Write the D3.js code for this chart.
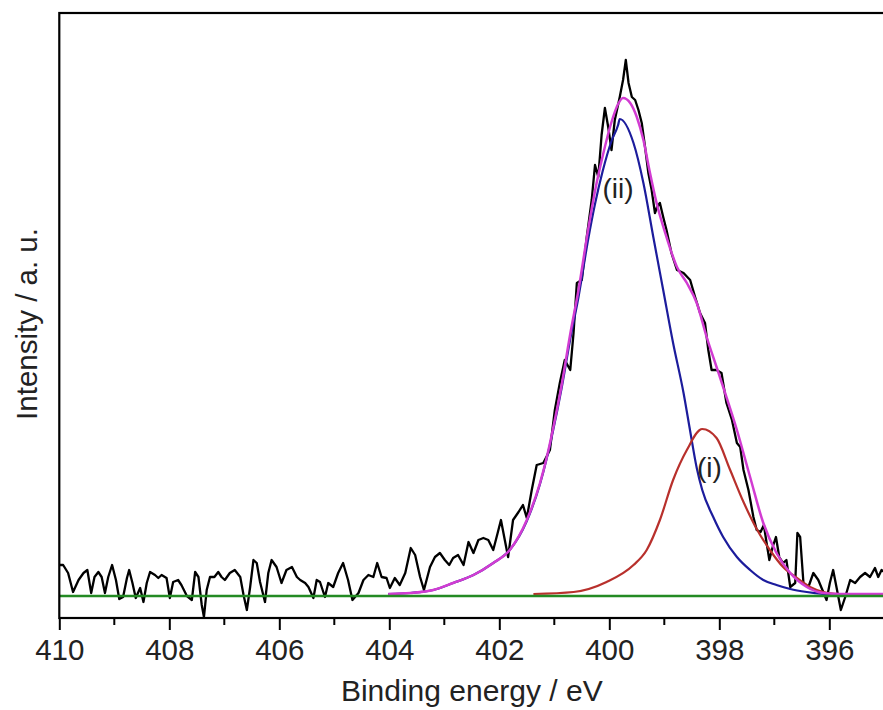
<!DOCTYPE html>
<html>
<head>
<meta charset="utf-8">
<script src="https://cdn.jsdelivr.net/npm/d3@7"></script>
<style>
  body { margin: 0; background: #fff; }
  text { font-family: "Liberation Sans", Arial, sans-serif; fill: #222; }
</style>
</head>
<body>
<div class="chart"></div>
<script>
// measured spectrum (binding energy in eV, intensity in a.u.)
const energy = [409.99,409.93,409.84,409.75,409.65,409.56,409.49,409.42,409.36,409.29,409.23,409.17,409.11,409.04,408.97,408.91,408.84,408.77,408.73,408.67,408.61,408.53,408.47,408.41,408.35,408.26,408.20,408.14,408.05,407.99,407.93,407.84,407.78,407.68,407.59,407.53,407.47,407.41,407.37,407.32,407.26,407.18,407.11,407.05,406.99,406.90,406.81,406.71,406.65,406.59,406.53,406.47,406.41,406.35,406.26,406.20,406.14,406.05,405.96,405.87,405.77,405.68,
  405.62,405.53,405.47,405.38,405.32,405.26,405.17,405.11,405.02,404.93,404.84,404.75,404.67,404.56,404.47,404.38,404.29,404.22,404.14,404.05,403.99,403.90,403.81,403.71,403.61,403.53,403.44,403.37,403.26,403.17,403.08,402.99,402.91,402.84,402.75,402.65,402.56,402.47,402.38,402.29,402.20,402.11,402.03,401.97,401.90,401.84,401.75,401.65,401.57,401.50,401.41,401.32,
  401.20,401.08,400.99,400.90,400.81,400.71,400.65,400.59,400.50,400.41,400.32,400.26,400.20,400.14,400.08,400.02,399.96,399.90,399.81,399.75,399.70,399.65,399.59,399.53,399.47,399.41,399.35,399.29,399.23,399.17,399.13,399.08,399.02,398.96,398.87,398.77,398.65,398.53,398.44,398.35,398.26,398.20,398.14,398.05,
  397.96,397.87,397.77,397.68,397.62,397.56,397.47,397.38,397.32,397.25,397.19,397.14,397.09,397.03,396.97,396.91,396.84,396.78,396.71,396.62,396.58,396.53,396.47,396.38,396.29,396.20,396.14,396.05,395.99,395.93,395.87,395.79,395.71,395.62,395.53,395.44,395.35,395.26,395.17,395.11,395.05,395.00];
const intensity = [31,31,23,4,16,23,26,3,19,24,19,3,19,31,16,-3,-1,18,26,13,-2,8,-6,13,24,21,18,21,18,-2,14,16,11,0,-4,24,19,-9,-21,6,19,19,24,19,16,23,26,19,1,-14,9,36,33,14,-6,23,36,29,13,26,29,19,
  16,13,9,-2,16,14,-1,13,9,23,33,16,-4,3,16,21,19,33,19,18,8,18,11,23,48,41,19,6,29,39,43,36,31,38,41,31,54,43,56,58,56,46,63,76,56,39,76,84,91,78,106,131,
  133,146,186,213,236,226,263,313,316,359,396,431,419,461,488,469,446,476,499,516,536,513,499,496,486,473,449,423,406,383,389,393,379,366,343,326,323,316,299,283,273,246,226,226,
  223,193,176,153,149,126,106,79,66,64,71,53,36,49,59,39,33,36,9,13,63,59,13,9,23,16,8,-4,13,26,9,-14,-1,16,13,19,23,19,28,19,26,24];

// fitted component (ii)
const peakIIEnergy = [404.02,403.62,403.20,402.84,402.47,402.11,401.81,401.50,401.26,401.14,401.02,400.87,400.71,400.56,400.38,400.26,400.12,399.96,399.84,399.81,399.56,399.38,399.20,399.02,398.84,398.65,398.53,398.41,398.31,398.11,397.93,397.68,397.44,397.20,396.96,396.71,396.41,396.11,395.81,395.00];
const peakII = [2,3,6,13,21,33,46,75,112,137,166,207,257,299,358,392,425,455,471,477,453,413,359,306,253,203,165,128,106,79,59,39,26,16,11,7,4,2,1,1];

// fitted component (i)
const peakIEnergy = [401.38,400.65,400.05,399.56,399.32,399.08,398.84,398.59,398.31,398.05,397.81,397.56,397.32,397.08,396.84,396.59,396.35,396.11,395.81,395.00];
const peakI = [2,4,14,31,46,76,116,146,167,158,127,94,67,46,29,18,9,4,2,1];

// fit envelope
const envelopeEnergy = [404.02,403.62,403.20,402.84,402.47,402.11,401.81,401.50,401.26,401.14,401.02,400.87,400.71,400.56,400.38,400.26,400.12,399.96,399.84,399.75,399.62,399.50,399.38,399.26,399.14,398.96,398.77,398.59,398.41,398.23,398.05,397.93,397.68,397.44,397.20,396.96,396.71,396.41,396.11,395.81,395.00];
const envelope = [2,3,6,13,21,33,46,76,113,138,168,210,262,306,368,405,440,474,492,498,493,479,456,423,393,359,329,313,293,259,229,209,166,119,73,43,23,9,3,2,2];

const baselineEnergy = [410, 395];
const baseline = [0, 0];

const tickValues = [410, 408, 406, 404, 402, 400, 398, 396];
const tickLabels = ["410", "408", "406", "404", "402", "400", "398", "396"];
const minorTicks = [409, 407, 405, 403, 401, 399, 397, 395];

let svgWidth = 883;
let svgHeight = 710;

let plot = { left: 59.3, right: 884.3, top: 13, bottom: 618 };

let svg = d3.select(".chart")
  .append("svg")
  .attr("width", svgWidth)
  .attr("height", svgHeight);

let x = d3.scaleLinear()
  .domain([410, 395])
  .range([plot.left, plot.right]);

let y = d3.scaleLinear()
  .domain([-22, 583])
  .range([plot.bottom, plot.top]);

svg.append("clipPath").attr("id", "plotclip")
  .append("rect")
  .attr("x", plot.left)
  .attr("y", plot.top)
  .attr("width", plot.right - plot.left)
  .attr("height", plot.bottom - plot.top);

let lines = svg.append("g").attr("clip-path", "url(#plotclip)");

function drawLine(xs, ys, color, width, curve) {
  let line = d3.line()
    .x(d => x(d[0]))
    .y(d => y(d[1]))
    .curve(curve);
  lines.append("path")
    .datum(d3.zip(xs, ys))
    .attr("d", line)
    .attr("fill", "none")
    .attr("stroke", color)
    .attr("stroke-width", width)
    .attr("stroke-linejoin", "round");
}

drawLine(energy, intensity, "#000", 2.3, d3.curveLinear);
drawLine(peakIIEnergy, peakII, "#1c1c9c", 2.2, d3.curveMonotoneX);
drawLine(peakIEnergy, peakI, "#b8302c", 2.2, d3.curveMonotoneX);
drawLine(envelopeEnergy, envelope, "#d23cd2", 2.5, d3.curveMonotoneX);
drawLine(baselineEnergy, baseline, "#238a23", 2.5, d3.curveLinear);

// frame
svg.append("rect")
  .attr("x", plot.left)
  .attr("y", plot.top)
  .attr("width", plot.right - plot.left)
  .attr("height", plot.bottom - plot.top)
  .attr("fill", "none")
  .attr("stroke", "#000")
  .attr("stroke-width", 2.2);

// x axis
let xAxis = d3.axisBottom(x)
  .tickValues(tickValues)
  .tickFormat((d, i) => tickLabels[i])
  .tickSize(12)
  .tickSizeOuter(0)
  .tickPadding(9);

let axisG = svg.append("g")
  .attr("transform", `translate(0, ${plot.bottom})`)
  .call(xAxis);
axisG.select(".domain").remove();
axisG.selectAll("line").attr("stroke", "#000").attr("stroke-width", 2);
axisG.selectAll("text")
  .attr("font-size", 29.5)
  .style("font-family", '"Liberation Sans", Arial, sans-serif')
  .attr("fill", "#222");

svg.append("g")
  .selectAll("line")
  .data(minorTicks)
  .enter()
  .append("line")
  .attr("x1", d => x(d))
  .attr("x2", d => x(d))
  .attr("y1", plot.bottom)
  .attr("y2", plot.bottom + 7)
  .attr("stroke", "#000")
  .attr("stroke-width", 2);

// axis titles
svg.append("text")
  .attr("x", (plot.left + plot.right) / 2)
  .attr("y", 701)
  .attr("text-anchor", "middle")
  .attr("font-size", 30)
  .text("Binding energy / eV");

svg.append("text")
  .attr("transform", `translate(37, 324) rotate(-90)`)
  .attr("text-anchor", "middle")
  .attr("font-size", 29.5)
  .text("Intensity / a. u.");

// peak labels
svg.append("text")
  .attr("x", x(399.84))
  .attr("y", 198)
  .attr("text-anchor", "middle")
  .attr("font-size", 28)
  .attr("fill", "#333")
  .text("(ii)");

svg.append("text")
  .attr("x", x(398.18))
  .attr("y", 477)
  .attr("text-anchor", "middle")
  .attr("font-size", 28)
  .attr("fill", "#333")
  .text("(i)");
</script>
</body>
</html>
